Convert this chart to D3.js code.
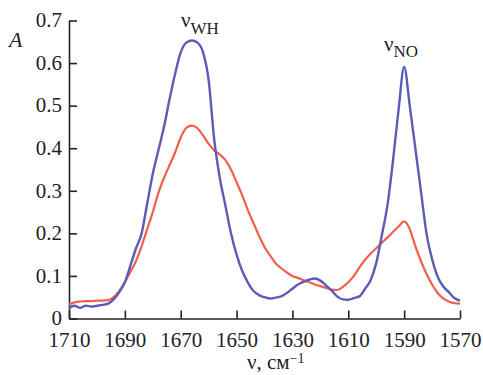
<!DOCTYPE html>
<html>
<head>
<meta charset="utf-8">
<script src="https://cdn.jsdelivr.net/npm/d3@7"></script>
<style>
  body { margin: 0; background: #fff; }
  svg { display: block; }
  svg text { font-family: "Liberation Serif", "DejaVu Serif", serif !important; fill: #222; }
</style>
</head>
<body>
<svg id="chart"></svg>
<script>
const width = 483;
const height = 375;

// wavenumber grid, cm-1
var wavenumber = [1710,1708,1706,1704,1702,1700,1698,1696,1694,1692,
  1690,1688,1686,1684,1682,1680,1678,1676,1674,1672,
  1670,1668,1666,1664,1662,1660,1658,1656,1654,1652,
  1650,1648,1646,1644,1642,1640,1638,1636,1634,1632,
  1630,1628,1626,1624,1622,1620,1618,1616,1614,1612,
  1610,1608,1606,1604,1602,1600,1598,1596,1594,1592,
  1590,1588,1586,1584,1582,1580,1578,1576,1574,1572,1570];

// blue spectrum
var absBlue = [0.025,0.03,0.025,0.03,0.028,0.03,0.032,0.035,0.045,0.062,
  0.085,0.125,0.165,0.2,0.27,0.34,0.395,0.45,0.515,0.575,
  0.625,0.648,0.653,0.648,0.625,0.56,0.42,0.33,0.265,0.2,
  0.15,0.112,0.085,0.065,0.055,0.05,0.047,0.049,0.052,0.06,
  0.07,0.08,0.086,0.091,0.094,0.089,0.078,0.066,0.052,0.045,
  0.044,0.048,0.052,0.07,0.09,0.13,0.195,0.265,0.37,0.49,
  0.591,0.5,0.4,0.3,0.2,0.14,0.098,0.075,0.062,0.048,0.042];

// red spectrum
var absRed = [0.033,0.038,0.04,0.041,0.041,0.042,0.042,0.043,0.05,0.065,
  0.085,0.11,0.135,0.17,0.21,0.25,0.295,0.33,0.36,0.39,
  0.425,0.448,0.453,0.447,0.43,0.41,0.395,0.385,0.372,0.35,
  0.32,0.29,0.255,0.225,0.195,0.168,0.148,0.13,0.118,0.108,
  0.1,0.095,0.09,0.085,0.08,0.076,0.072,0.068,0.067,0.074,
  0.085,0.1,0.12,0.138,0.152,0.165,0.178,0.19,0.203,0.216,
  0.228,0.21,0.17,0.135,0.105,0.08,0.06,0.047,0.04,0.036,0.035];

var xTicks = [1710,1690,1670,1650,1630,1610,1590,1570];
var yTicks = [0,0.1,0.2,0.3,0.4,0.5,0.6,0.7];

var svg = d3.select("#chart")
  .attr("width", width)
  .attr("height", height);

var x = d3.scaleLinear().domain([1710, 1570]).range([69, 460]);
var y = d3.scaleLinear().domain([0, 0.7]).range([318.5, 20.5]);

// axes, ticks pointing inward
var xAxis = svg.append("g")
  .attr("transform", "translate(0," + y(0) + ")")
  .call(d3.axisBottom(x).tickValues(xTicks).tickSizeInner(-8).tickSizeOuter(0).tickFormat(d3.format("d")));
xAxis.attr("font-family", null).attr("font-size", 21);
xAxis.selectAll("text")
  .attr("dy", null)
  .attr("y", 28.5);

var yAxis = svg.append("g")
  .attr("transform", "translate(" + x(1710) + ",0)")
  .call(d3.axisLeft(y).tickValues(yTicks).tickSizeInner(-8).tickSizeOuter(0).tickPadding(7)
    .tickFormat(d => d === 0 ? "0" : d.toFixed(1)));
yAxis.attr("font-family", null).attr("font-size", 21);
yAxis.selectAll("text").attr("dy", "0.3em");

svg.selectAll(".domain").attr("stroke", "#222").attr("stroke-width", 1.6);
svg.selectAll(".tick line").attr("stroke", "#222").attr("stroke-width", 1.6);

// spectra
var line = function(vals) {
  return d3.line()
    .x((d, i) => x(wavenumber[i]))
    .y(d => y(d))
    .curve(d3.curveMonotoneX)(vals);
};

svg.append("path")
  .attr("d", line(absRed))
  .attr("fill", "none")
  .attr("stroke", "#f0604c")
  .attr("stroke-width", 2.2)
  .attr("stroke-linejoin", "round");

svg.append("path")
  .attr("d", line(absBlue))
  .attr("fill", "none")
  .attr("stroke", "#5a5cb6")
  .attr("stroke-width", 2.4)
  .attr("stroke-linejoin", "round");

// labels
svg.append("text")
  .attr("x", 9)
  .attr("y", 47)
  .attr("font-size", 22)
  .attr("font-style", "italic")
  .text("A");

var xt = svg.append("text")
  .attr("x", 247)
  .attr("y", 369)
  .attr("font-size", 21);
xt.append("tspan").text("ν, см");
xt.append("tspan").attr("font-size", 14).attr("dy", -6).text("−1");

var wh = svg.append("text")
  .attr("x", 181)
  .attr("y", 27)
  .attr("font-size", 21);
wh.append("tspan").text("ν");
wh.append("tspan").attr("font-size", 17).attr("dy", 7).text("WH");

var no = svg.append("text")
  .attr("x", 384)
  .attr("y", 51)
  .attr("font-size", 21);
no.append("tspan").text("ν");
no.append("tspan").attr("font-size", 17).attr("dy", 6).text("NO");
</script>
</body>
</html>
